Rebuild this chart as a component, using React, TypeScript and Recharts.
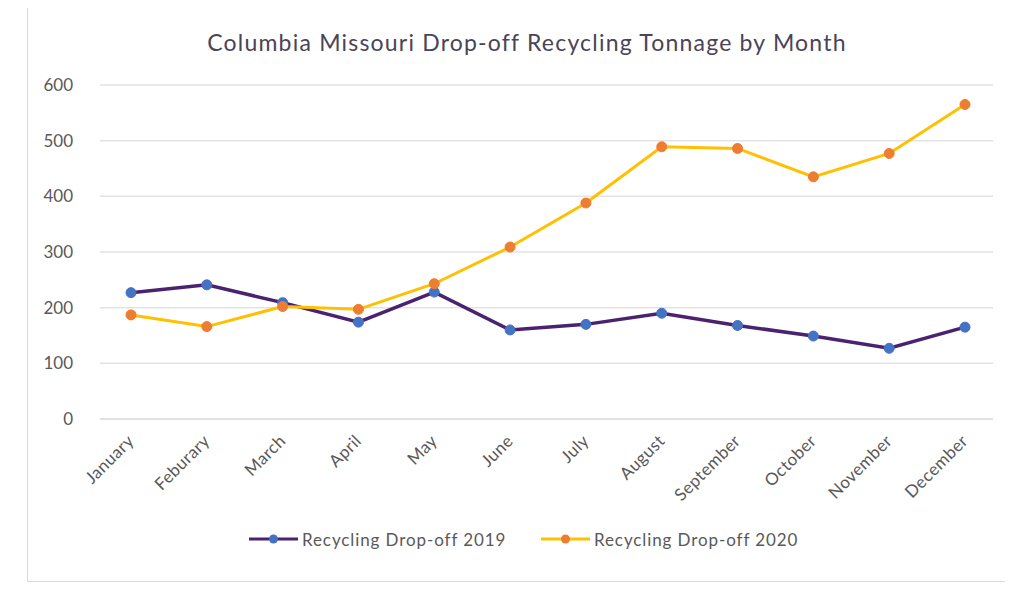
import React from 'react';
import { LineChart, Line, XAxis, YAxis, CartesianGrid } from 'recharts';

const months = ['January', 'Feburary', 'March', 'April', 'May', 'June', 'July', 'August', 'September', 'October', 'November', 'December'];
const dropoff2019 = [227, 241, 209, 174, 228, 160, 170, 190, 168, 149, 127, 165];
const dropoff2020 = [187, 166, 202, 197, 243, 309, 388, 489, 486, 435, 477, 565];
const yTicks = [0, 100, 200, 300, 400, 500, 600];
const chartTitle = 'Columbia Missouri Drop-off Recycling Tonnage by Month';
const seriesNames = ['Recycling Drop-off 2019', 'Recycling Drop-off 2020'];

const data = months.map((m, i) => ({ month: m, y2019: dropoff2019[i], y2020: dropoff2020[i] }));

const FONT = 'Lato, "Open Sans", sans-serif';
const TEXT = '#595959';
const C2019_LINE = '#4b2270';
const C2019_DOT = '#4472c4';
const C2020_LINE = '#ffc000';
const C2020_DOT = '#ed7d31';

const XTick = (props: any) => {
  const { x, y, payload } = props;
  const ax = x + 4;
  const ay = y + 15;
  return (
    <text
      x={ax}
      y={ay}
      transform={`rotate(-45, ${ax}, ${ay})`}
      textAnchor="end"
      fill={TEXT}
      fontSize={17}
      letterSpacing={0.4}
      fontFamily={FONT}
    >
      {payload.value}
    </text>
  );
};

const LegendItem = ({ line, dot, label, left }: { line: string; dot: string; label: string; left: number }) => (
  <div style={{ position: 'absolute', left, top: 528, height: 22, display: 'flex', alignItems: 'center' }}>
    <svg width={51} height={22}>
      <line x1={1} y1={11} x2={50} y2={11} stroke={line} strokeWidth={3} />
      <circle cx={25.5} cy={11} r={4.5} fill={dot} />
    </svg>
    <span style={{ fontFamily: FONT, fontSize: 17, letterSpacing: 0.9, color: TEXT, marginLeft: 3 }}>{label}</span>
  </div>
);

export default function App() {
  return (
    <div style={{ position: 'relative', width: 1013, height: 592, margin: -8, background: '#fff', overflow: 'hidden' }}>
      <div
        style={{
          position: 'absolute',
          left: 27,
          top: 5,
          width: 1000,
          height: 577,
          border: '1px solid #d9d9d9',
          boxSizing: 'border-box',
        }}
      />
      <div
        style={{
          position: 'absolute',
          left: 0,
          width: 1054,
          top: 27,
          textAlign: 'center',
          fontFamily: FONT,
          fontSize: 23,
          letterSpacing: 1.2,
          color: '#4a4458',
          lineHeight: '30px',
        }}
      >
        {chartTitle}
      </div>
      <div style={{ position: 'absolute', left: 0, top: 0 }}>
        <LineChart width={1013} height={592} data={data} margin={{ top: 85, right: 20, bottom: 93, left: 40 }}>
          <CartesianGrid vertical={false} stroke="#e3e3e3" strokeWidth={1.5} />
          <XAxis
            dataKey="month"
            interval={0}
            height={80}
            padding={{ left: 31, right: 28 }}
            axisLine={{ stroke: '#d9d9d9' }}
            tickLine={false}
            tick={<XTick />}
          />
          <YAxis
            width={60}
            domain={[0, 600]}
            ticks={yTicks}
            axisLine={false}
            tickLine={false}
            tickMargin={21}
            tick={{ fill: TEXT, fontSize: 17, fontFamily: FONT }}
          />
          <Line
            type="linear"
            dataKey="y2019"
            name={seriesNames[0]}
            stroke={C2019_LINE}
            strokeWidth={3.5}
            dot={{ r: 5, fill: C2019_DOT, stroke: C2019_DOT, strokeWidth: 1 }}
            isAnimationActive={false}
          />
          <Line
            type="linear"
            dataKey="y2020"
            name={seriesNames[1]}
            stroke={C2020_LINE}
            strokeWidth={3}
            dot={{ r: 5, fill: C2020_DOT, stroke: C2020_DOT, strokeWidth: 1 }}
            isAnimationActive={false}
          />
        </LineChart>
      </div>
      <LegendItem line={C2019_LINE} dot={C2019_DOT} label={seriesNames[0]} left={248} />
      <LegendItem line={C2020_LINE} dot={C2020_DOT} label={seriesNames[1]} left={540} />
    </div>
  );
}
